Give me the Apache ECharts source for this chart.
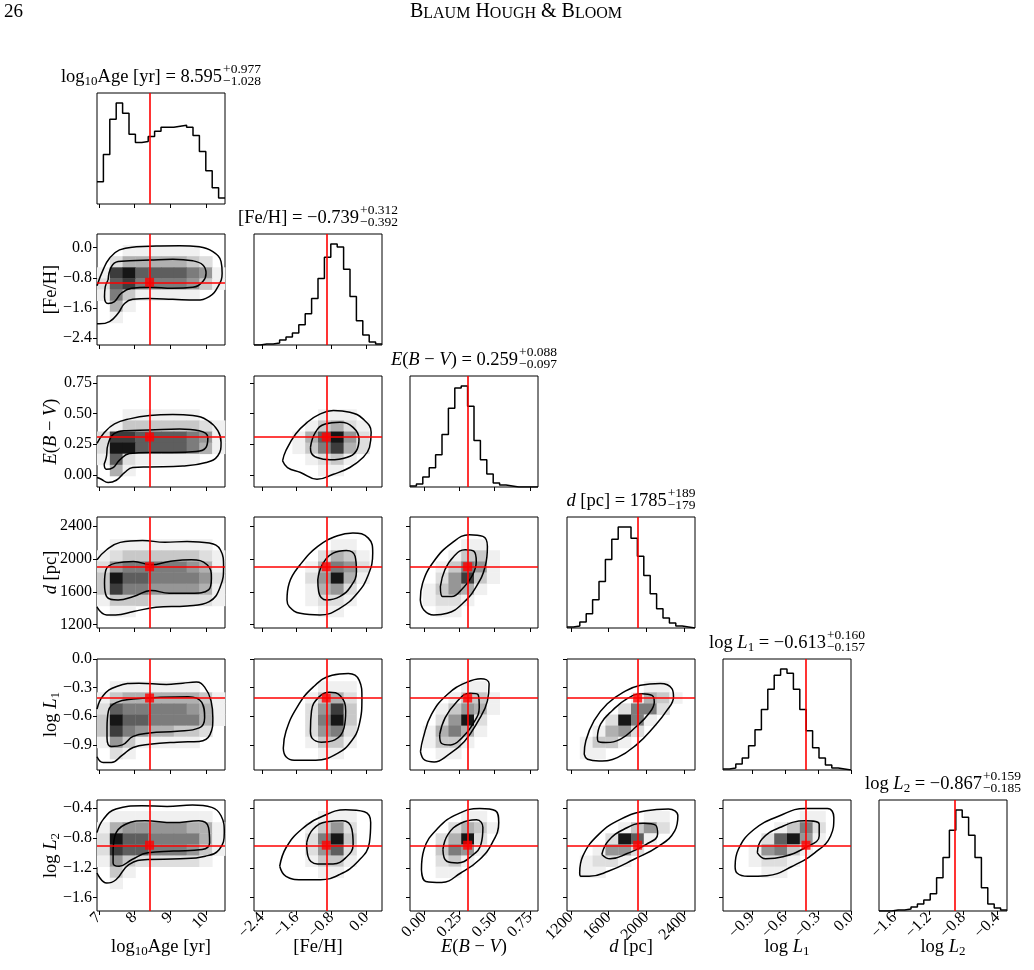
<!DOCTYPE html>
<html>
<head>
<meta charset="utf-8">
<script src="https://cdn.jsdelivr.net/npm/echarts@6.0.0/dist/echarts.min.js"></script>
<style>
  html, body { margin: 0; padding: 0; background: #fff; }
  #main { width: 1034px; height: 970px; }
</style>
</head>
<body>
<div id="main"></div>
<script>
// corner plot: 6 parameters, histograms on the diagonal, 2d densities below it

// ---- data ----
var params = ['age', 'feh', 'ebv', 'dist', 'logL1', 'logL2'];
var ranges = [[6.95, 10.53], [-2.58, 0.36], [-0.099, 0.807], [1160, 2512], [-1.163, 0.0], [-1.78, -0.29]];
var truths = [8.42, -0.92, 0.309, 1906, -0.409, -0.897];
var tickValues = [[7, 8, 9, 10], [-2.4, -1.6, -0.8, 0.0], [0, 0.25, 0.5, 0.75], [1200, 1600, 2000, 2400], [-0.9, -0.6, -0.3, 0.0], [-1.6, -1.2, -0.8, -0.4]];
var tickDecimals = [0, 1, 2, 0, 1, 1];
var medians = ['8.595', '−0.739', '0.259', '1785', '−0.613', '−0.867'];
var errPlus = ['+0.977', '+0.312', '+0.088', '+189', '+0.160', '+0.159'];
var errMinus = ['−1.028', '−0.392', '−0.097', '−179', '−0.157', '−0.185'];

// histogram heights (20 bins over the axis range, peak = 100)
var histAge = [22, 49, 84, 100, 90, 69, 61, 62, 67, 72, 76, 76, 77, 78, 76, 68, 52, 33, 16, 6];
var histFeh = [0, 1, 1, 2, 5, 8, 12, 20, 31, 46, 66, 87, 100, 97, 75, 48, 24, 10, 3, 1];
var histEbv = [1, 3, 10, 19, 32, 52, 78, 98, 100, 80, 46, 27, 13, 4, 2, 1, 0, 0, 0, 0];
var histDist = [1, 2, 6, 14, 28, 46, 68, 88, 100, 100, 89, 71, 52, 34, 19, 10, 5, 2, 1, 0];
var histL1 = [1, 2, 6, 12, 24, 40, 60, 80, 94, 100, 96, 80, 60, 39, 22, 12, 5, 2, 1, 0];
var histL2 = [0, 0, 1, 1, 2, 4, 7, 11, 17, 33, 53, 80, 100, 93, 75, 53, 23, 7, 3, 1];

// 2d density levels (0-9), 10x10 cells, top row first
var densFehAge = ['0000000000', '0011111100', '0244444320', '1897777651', '2786666531', '1631111100', '0410000000', '0100000000', '0000000000', '0000000000'];
var densEbvAge = ['0000000000', '0000000000', '0000000000', '0011111100', '0133333321', '2887777651', '2997777641', '1721111100', '0410000000', '0000000000'];
var densDistAge = ['0000000000', '0000000000', '0111111110', '1233333321', '2566666541', '3977666652', '3866555541', '1333222221', '0110000000', '0000000000'];
var densL1Age = ['0000000000', '0000000000', '0111111100', '1344444431', '2766666541', '3977666641', '3865443320', '1531111100', '0210000000', '0000000000'];
var densL2Age = ['0000000000', '0111111110', '1455555441', '2977666641', '2877666531', '1532222210', '0310000000', '0100000000', '0000000000', '0000000000'];
var densEbvFeh = ['0000000000', '0000000000', '0000000000', '0000011100', '0000134210', '0001479520', '0001368420', '0000123100', '0000011000', '0000000000'];
var densDistFeh = ['0000000000', '0000000000', '0000001100', '0000024310', '0000146520', '0000259410', '0000145200', '0000122100', '0000011000', '0000000000'];
var densL1Feh = ['0000000000', '0000000000', '0000011100', '0000134200', '0000258300', '0000269300', '0000256200', '0000133100', '0000011000', '0000000000'];
var densL2Feh = ['0000000000', '0000011100', '0000135200', '0000269300', '0000257200', '0000133100', '0000011000', '0000000000', '0000000000', '0000000000'];
var densDistEbv = ['0000000000', '0000000000', '0000110000', '0001331000', '0013651000', '0025831000', '0135410000', '0122100000', '0011000000', '0000000000'];
var densL1Ebv = ['0000000000', '0000000000', '0000110000', '0001331000', '0013541000', '0025920000', '0146410000', '0133100000', '0011000000', '0000000000'];
var densL2Ebv = ['0000000000', '0000110000', '0002431000', '0024920000', '0036510000', '0023100000', '0011000000', '0000000000', '0000000000', '0000000000'];
var densL1Dist = ['0000000000', '0000000000', '0000001100', '0000014310', '0000266200', '0002961000', '0014520000', '0133100000', '0110000000', '0000000000'];
var densL2Dist = ['0000000000', '0000001100', '0000135200', '0002971000', '0015520000', '0122100000', '0110000000', '0000000000', '0000000000', '0000000000'];
var densL2L1 = ['0000000000', '0000001100', '0000136200', '0002795100', '0015631000', '0012210000', '0001100000', '0000000000', '0000000000', '0000000000'];

// contour vertices [x, y] in data units
var outerFehAge = [[6.95, -2.02], [7.02, -2.02], [7.30, -1.96], [7.54, -1.74], [7.72, -1.48], [7.95, -1.37], [8.42, -1.35], [9.07, -1.37], [9.72, -1.39], [10.09, -1.30], [10.33, -1.04], [10.45, -0.68], [10.42, -0.37], [10.19, -0.11], [9.81, 0.02], [9.26, 0.05], [8.61, 0.04], [8.05, 0.02], [7.58, -0.06], [7.30, -0.28], [7.12, -0.59], [6.95, -1.01]];
var innerFehAge = [[7.26, -0.86], [7.35, -0.51], [7.54, -0.37], [7.86, -0.35], [8.42, -0.33], [9.07, -0.31], [9.63, -0.35], [9.91, -0.46], [10.0, -0.68], [9.91, -0.90], [9.63, -1.05], [9.07, -1.08], [8.42, -1.05], [7.91, -1.08], [7.63, -1.21], [7.44, -1.43], [7.26, -1.48], [7.16, -1.30], [7.18, -1.04]];
var outerEbvAge = [[6.95, -0.022], [7.07, -0.036], [7.26, -0.063], [7.49, -0.044], [7.72, 0.019], [7.95, 0.060], [8.42, 0.065], [9.35, 0.073], [10.0, 0.101], [10.33, 0.156], [10.42, 0.265], [10.33, 0.361], [10.05, 0.443], [9.63, 0.484], [9.07, 0.492], [8.42, 0.484], [7.86, 0.457], [7.44, 0.416], [7.16, 0.347], [6.95, 0.257]];
var innerEbvAge = [[7.15, 0.087], [7.21, 0.142], [7.26, 0.251], [7.44, 0.339], [7.77, 0.361], [8.42, 0.366], [9.26, 0.375], [9.81, 0.361], [10.05, 0.306], [10.0, 0.224], [9.72, 0.191], [9.07, 0.183], [8.42, 0.183], [7.86, 0.175], [7.58, 0.120], [7.40, 0.060], [7.21, 0.046]];
var outerDistAge = [[6.95, 1413], [7.22, 1319], [7.47, 1319], [7.97, 1360], [8.60, 1413], [9.47, 1429], [10.09, 1482], [10.40, 1665], [10.49, 1909], [10.40, 2113], [10.09, 2194], [9.47, 2215], [8.85, 2203], [8.22, 2227], [7.60, 2203], [7.22, 2113], [6.95, 1991]];
var innerDistAge = [[7.16, 1706], [7.20, 1869], [7.47, 1950], [7.97, 1970], [8.47, 1930], [8.97, 1970], [9.59, 1991], [10.03, 1930], [10.15, 1767], [10.07, 1624], [9.59, 1584], [8.97, 1584], [8.47, 1616], [7.97, 1543], [7.54, 1502], [7.22, 1543]];
var outerL1Age = [[6.95, -1.024], [7.12, -1.085], [7.35, -1.085], [7.66, -1.007], [7.96, -0.928], [8.42, -0.893], [9.19, -0.871], [9.81, -0.864], [10.11, -0.793], [10.19, -0.615], [10.14, -0.438], [9.96, -0.295], [9.73, -0.242], [9.35, -0.253], [8.89, -0.267], [8.12, -0.253], [7.50, -0.288], [7.12, -0.384], [6.95, -0.526]];
var innerL1Age = [[7.23, -0.722], [7.27, -0.544], [7.50, -0.455], [7.96, -0.420], [8.73, -0.402], [9.50, -0.395], [9.88, -0.455], [9.96, -0.615], [9.81, -0.722], [9.19, -0.758], [8.42, -0.775], [7.96, -0.811], [7.66, -0.900], [7.35, -0.918], [7.23, -0.829]];
var outerL2Age = [[6.95, -1.270], [7.22, -1.405], [7.48, -1.360], [7.84, -1.157], [8.37, -1.089], [9.27, -1.080], [9.98, -1.044], [10.37, -0.954], [10.51, -0.728], [10.42, -0.502], [10.16, -0.389], [9.62, -0.358], [8.91, -0.376], [8.20, -0.367], [7.48, -0.412], [7.13, -0.547], [6.95, -0.728]];
var innerL2Age = [[7.40, -0.999], [7.45, -0.773], [7.75, -0.615], [8.29, -0.570], [9.09, -0.593], [9.80, -0.570], [10.07, -0.660], [10.10, -0.863], [9.89, -0.954], [9.09, -0.976], [8.37, -0.999], [7.93, -1.089], [7.57, -1.179], [7.40, -1.134]];
var outerEbvFeh = [[-1.924, 0.115], [-1.849, 0.197], [-1.623, 0.334], [-1.359, 0.429], [-1.057, 0.498], [-0.756, 0.525], [-0.379, 0.511], [-0.077, 0.457], [0.111, 0.347], [0.073, 0.224], [-0.077, 0.142], [-0.379, 0.060], [-0.756, 0.005], [-1.133, -0.036], [-1.510, 0.019], [-1.811, 0.060]];
var innerEbvFeh = [[-1.283, 0.224], [-1.170, 0.347], [-0.944, 0.416], [-0.605, 0.429], [-0.304, 0.388], [-0.168, 0.292], [-0.228, 0.197], [-0.454, 0.142], [-0.831, 0.123], [-1.133, 0.142], [-1.268, 0.183]];
var outerDistFeh = [[-1.822, 1502], [-1.772, 1706], [-1.520, 1930], [-1.115, 2154], [-0.661, 2284], [-0.308, 2317], [0.046, 2255], [0.147, 2072], [0.046, 1808], [-0.207, 1584], [-0.611, 1400], [-1.065, 1319], [-1.520, 1339], [-1.772, 1421]];
var innerDistFeh = [[-1.115, 1747], [-1.014, 1930], [-0.762, 2072], [-0.459, 2105], [-0.257, 2032], [-0.227, 1848], [-0.358, 1665], [-0.611, 1543], [-0.914, 1502], [-1.095, 1604]];
var outerL1Feh = [[-1.907, -0.935], [-1.845, -0.758], [-1.596, -0.509], [-1.222, -0.295], [-0.786, -0.171], [-0.412, -0.153], [-0.163, -0.224], [-0.101, -0.402], [-0.163, -0.687], [-0.350, -0.864], [-0.661, -0.989], [-1.160, -1.060], [-1.658, -1.060], [-1.845, -1.024]];
var innerL1Feh = [[-1.284, -0.758], [-1.259, -0.544], [-1.097, -0.402], [-0.848, -0.349], [-0.599, -0.384], [-0.474, -0.544], [-0.512, -0.722], [-0.723, -0.847], [-1.035, -0.871], [-1.247, -0.829]];
var outerL2Feh = [[-1.989, -1.179], [-1.845, -0.931], [-1.485, -0.683], [-0.980, -0.502], [-0.476, -0.421], [-0.044, -0.448], [0.100, -0.593], [0.071, -0.863], [-0.188, -1.112], [-0.620, -1.292], [-1.053, -1.360], [-1.485, -1.360], [-1.845, -1.315]];
var innerL2Feh = [[-1.370, -0.863], [-1.225, -0.683], [-0.908, -0.583], [-0.548, -0.570], [-0.332, -0.683], [-0.303, -0.886], [-0.476, -1.067], [-0.764, -1.148], [-1.125, -1.148], [-1.341, -1.044]];
var outerDistEbv = [[-0.026, 1502], [-0.010, 1706], [0.069, 1970], [0.196, 2194], [0.322, 2296], [0.417, 2276], [0.449, 2154], [0.433, 1909], [0.370, 1665], [0.275, 1461], [0.164, 1339], [0.069, 1319], [-0.001, 1380]];
var innerDistEbv = [[0.116, 1665], [0.148, 1869], [0.211, 2032], [0.291, 2113], [0.354, 2093], [0.370, 1970], [0.338, 1787], [0.275, 1645], [0.196, 1543], [0.132, 1543]];
var outerL1Ebv = [[-0.025, -0.971], [-0.006, -0.829], [0.053, -0.580], [0.169, -0.366], [0.305, -0.242], [0.403, -0.206], [0.461, -0.260], [0.449, -0.438], [0.383, -0.651], [0.286, -0.864], [0.169, -1.007], [0.072, -1.078], [0.006, -1.060]];
var innerL1Ebv = [[0.111, -0.793], [0.150, -0.615], [0.228, -0.455], [0.325, -0.359], [0.383, -0.373], [0.391, -0.509], [0.344, -0.687], [0.267, -0.829], [0.189, -0.900], [0.123, -0.882]];
var outerL2Ebv = [[-0.018, -1.225], [0.000, -0.954], [0.103, -0.660], [0.237, -0.480], [0.394, -0.403], [0.506, -0.434], [0.529, -0.593], [0.484, -0.863], [0.394, -1.089], [0.260, -1.270], [0.125, -1.396], [0.013, -1.383]];
var innerL2Ebv = [[0.134, -0.954], [0.170, -0.751], [0.260, -0.602], [0.372, -0.556], [0.417, -0.660], [0.403, -0.886], [0.341, -1.035], [0.237, -1.134], [0.161, -1.112]];
var outerL1Dist = [[1342, -0.997], [1359, -0.856], [1446, -0.645], [1586, -0.469], [1761, -0.345], [1936, -0.275], [2145, -0.257], [2268, -0.310], [2285, -0.398], [2215, -0.539], [2075, -0.715], [1901, -0.892], [1691, -1.033], [1499, -1.068], [1377, -1.050]];
var innerL1Dist = [[1481, -0.821], [1516, -0.680], [1639, -0.539], [1796, -0.416], [1953, -0.363], [2058, -0.381], [2082, -0.451], [2023, -0.574], [1883, -0.715], [1726, -0.839], [1569, -0.874], [1488, -0.863]];
var outerL2Dist = [[1294, -1.270], [1327, -1.044], [1495, -0.751], [1729, -0.547], [1997, -0.434], [2231, -0.412], [2331, -0.502], [2298, -0.705], [2130, -0.909], [1863, -1.089], [1595, -1.247], [1394, -1.315], [1307, -1.315]];
var innerL2Dist = [[1528, -1.021], [1595, -0.841], [1762, -0.683], [1963, -0.602], [2097, -0.629], [2117, -0.751], [1997, -0.886], [1796, -1.008], [1615, -1.080]];
var outerL2L1 = [[-1.053, -1.179], [-1.024, -0.954], [-0.879, -0.683], [-0.648, -0.502], [-0.417, -0.403], [-0.214, -0.403], [-0.156, -0.525], [-0.185, -0.773], [-0.330, -0.999], [-0.532, -1.179], [-0.764, -1.306], [-0.937, -1.315], [-1.036, -1.270]];
var innerL2L1 = [[-0.851, -0.999], [-0.810, -0.818], [-0.648, -0.660], [-0.417, -0.570], [-0.289, -0.615], [-0.289, -0.773], [-0.417, -0.931], [-0.619, -1.053], [-0.775, -1.080]];

var hists = [histAge, histFeh, histEbv, histDist, histL1, histL2];

// row = y parameter, col = x parameter; open = outer contour runs off the left edge
var panels = [
  {row: 1, col: 0, dens: densFehAge, outer: outerFehAge, inner: innerFehAge, open: true},
  {row: 2, col: 0, dens: densEbvAge, outer: outerEbvAge, inner: innerEbvAge, open: true},
  {row: 3, col: 0, dens: densDistAge, outer: outerDistAge, inner: innerDistAge, open: true},
  {row: 4, col: 0, dens: densL1Age, outer: outerL1Age, inner: innerL1Age, open: true},
  {row: 5, col: 0, dens: densL2Age, outer: outerL2Age, inner: innerL2Age, open: true},
  {row: 2, col: 1, dens: densEbvFeh, outer: outerEbvFeh, inner: innerEbvFeh},
  {row: 3, col: 1, dens: densDistFeh, outer: outerDistFeh, inner: innerDistFeh},
  {row: 4, col: 1, dens: densL1Feh, outer: outerL1Feh, inner: innerL1Feh},
  {row: 5, col: 1, dens: densL2Feh, outer: outerL2Feh, inner: innerL2Feh},
  {row: 3, col: 2, dens: densDistEbv, outer: outerDistEbv, inner: innerDistEbv},
  {row: 4, col: 2, dens: densL1Ebv, outer: outerL1Ebv, inner: innerL1Ebv},
  {row: 5, col: 2, dens: densL2Ebv, outer: outerL2Ebv, inner: innerL2Ebv},
  {row: 4, col: 3, dens: densL1Dist, outer: outerL1Dist, inner: innerL1Dist},
  {row: 5, col: 3, dens: densL2Dist, outer: outerL2Dist, inner: innerL2Dist},
  {row: 5, col: 4, dens: densL2L1, outer: outerL2L1, inner: innerL2L1}
];

// axis label pieces: n = upright, i = italic, s = subscript
var labelTokens = [
  [['log', 'n'], ['10', 's'], ['Age [yr]', 'n']],
  [['[Fe/H]', 'n']],
  [['E', 'i'], ['(', 'n'], ['B', 'i'], [' − ', 'n'], ['V', 'i'], [')', 'n']],
  [['d', 'i'], [' [pc]', 'n']],
  [['log ', 'n'], ['L', 'i'], ['1', 's']],
  [['log ', 'n'], ['L', 'i'], ['2', 's']]
];

// ---- layout / style ----
var FONT = 'Liberation Serif';
var RED = '#ff0000';
var PW = 128, PH = 111;
var NAME_SIZE = 18.5, SCRIPT_SIZE = 13.5;
// grey value for each density level 0..9
var GREYS = [255, 240, 222, 200, 176, 150, 124, 94, 60, 22];
function gridLeft(j) { return Math.round(97.3 + 156.4 * j); }
function gridTop(i) { return Math.round(92.5 + 141.5 * i); }

function fmtTick(v, dec) {
  var s = Math.abs(v).toFixed(dec);
  return v < 0 ? '−' + s : s;
}

var measureCtx = document.createElement('canvas').getContext('2d');
function tokenFont(style, size) {
  var fs = style === 's' ? Math.round(size * 0.7) : size;
  return (style === 'i' ? 'italic ' : '') + fs + 'px "' + FONT + '"';
}
function measureTokens(tokens, size) {
  var w = 0;
  tokens.forEach(function (t) {
    measureCtx.font = tokenFont(t[1], size);
    w += measureCtx.measureText(t[0]).width;
  });
  return w;
}
function richString(tokens) {
  return tokens.map(function (t) { return '{' + t[1] + '|' + t[0] + '}'; }).join('');
}
function richStyles(size) {
  return {
    n: {fontFamily: FONT, fontSize: size, lineHeight: 21, fill: '#000'},
    i: {fontFamily: FONT, fontSize: size, fontStyle: 'italic', lineHeight: 21, fill: '#000'},
    s: {fontFamily: FONT, fontSize: Math.round(size * 0.7), lineHeight: 12, padding: [9, 0, 0, 0], fill: '#000'}
  };
}

var grids = [], xAxes = [], yAxes = [], series = [], graphics = [];

function addGrid(i, j) {
  grids.push({
    left: gridLeft(j), top: gridTop(i), width: PW, height: PH,
    show: true, borderColor: '#000', borderWidth: 1, backgroundColor: 'rgba(0,0,0,0)',
    containLabel: false, outerBoundsMode: 'none'
  });
  return grids.length - 1;
}

function valueAxis(g, p, showLabel, isX) {
  return {
    type: 'value', gridIndex: g, min: ranges[p][0], max: ranges[p][1],
    axisLine: {show: false, onZero: false},
    splitLine: {show: false},
    axisTick: {show: true, inside: false, length: 4, lineStyle: {color: '#000', width: 1}, customValues: tickValues[p]},
    axisLabel: {
      show: showLabel, customValues: tickValues[p], color: '#000', fontFamily: FONT, fontSize: 16,
      margin: isX ? 4 : 5, rotate: isX ? 45 : 0, hideOverlap: false,
      formatter: function (v) { return fmtTick(v, tickDecimals[p]); }
    }
  };
}

function redLines(data) {
  return {
    silent: true, symbol: ['none', 'none'], animation: false,
    label: {show: false},
    lineStyle: {color: RED, width: 1.6, type: 'solid'},
    emphasis: {disabled: true},
    data: data
  };
}

// diagonal histograms
params.forEach(function (name, k) {
  var g = addGrid(k, k);
  xAxes.push(valueAxis(g, k, k === 5, true));
  var counts = hists[k];
  yAxes.push({type: 'value', gridIndex: g, min: 0, max: 1.1 * Math.max.apply(null, counts), show: false});
  var binW = (ranges[k][1] - ranges[k][0]) / counts.length;
  var pts = counts.map(function (c, b) { return [ranges[k][0] + b * binW, c]; });
  pts.push([ranges[k][1], counts[counts.length - 1]]);
  series.push({
    type: 'line', xAxisIndex: g, yAxisIndex: g, data: pts, step: 'end',
    symbol: 'none', lineStyle: {color: '#000', width: 1.5}, z: 3,
    markLine: redLines([{xAxis: truths[k]}])
  });
});

// 2d panels
panels.forEach(function (pn) {
  var g = addGrid(pn.row, pn.col);
  xAxes.push(valueAxis(g, pn.col, pn.row === 5, true));
  yAxes.push(valueAxis(g, pn.row, pn.col === 0, false));
  var xr = ranges[pn.col], yr = ranges[pn.row];
  var nx = pn.dens[0].length, ny = pn.dens.length;
  var cw = (xr[1] - xr[0]) / nx, ch = (yr[1] - yr[0]) / ny;
  var cells = [];
  pn.dens.forEach(function (rowStr, r) {
    for (var c = 0; c < nx; c++) {
      var lev = +rowStr.charAt(c);
      if (lev > 0) cells.push([xr[0] + (c + 0.5) * cw, yr[1] - (r + 0.5) * ch, lev]);
    }
  });
  series.push({
    type: 'custom', xAxisIndex: g, yAxisIndex: g, data: cells, z: 1, silent: true,
    renderItem: function (params, api) {
      var p0 = api.coord([api.value(0) - cw / 2, api.value(1) + ch / 2]);
      var sz = api.size([cw, ch]);
      var grey = GREYS[api.value(2)];
      return {
        type: 'rect',
        shape: {x: p0[0], y: p0[1], width: sz[0] + 0.4, height: sz[1] + 0.4},
        style: {fill: 'rgb(' + grey + ',' + grey + ',' + grey + ')'}
      };
    }
  });
  var outer = pn.open ? pn.outer : pn.outer.concat([pn.outer[0]]);
  var inner = pn.inner.concat([pn.inner[0]]);
  [outer, inner].forEach(function (line) {
    series.push({
      type: 'line', xAxisIndex: g, yAxisIndex: g, data: line, smooth: 0.45,
      symbol: 'none', lineStyle: {color: '#000', width: 1.5}, z: 3, silent: true
    });
  });
  series.push({
    type: 'scatter', xAxisIndex: g, yAxisIndex: g,
    data: [[truths[pn.col], truths[pn.row]]],
    symbol: 'rect', symbolSize: 9, itemStyle: {color: RED}, z: 5,
    markLine: redLines([{xAxis: truths[pn.col]}, {yAxis: truths[pn.row]}])
  });
});

// titles above the histograms: label = median with +/- errors
params.forEach(function (name, k) {
  var toks = labelTokens[k].concat([[' = ' + medians[k], 'n']]);
  var wMain = measureTokens(toks, NAME_SIZE);
  measureCtx.font = SCRIPT_SIZE + 'px "' + FONT + '"';
  var wScr = Math.max(measureCtx.measureText(errPlus[k]).width, measureCtx.measureText(errMinus[k]).width);
  var cx = gridLeft(k) + PW / 2;
  var x0 = cx - (wMain + 1 + wScr) / 2;
  var base = gridTop(k) - 10;
  graphics.push({
    type: 'text', x: x0, y: base + 5, silent: true,
    style: {text: richString(toks), rich: richStyles(NAME_SIZE), align: 'left', verticalAlign: 'bottom'}
  });
  graphics.push({
    type: 'text', x: x0 + wMain + 1, y: base - 20, silent: true,
    style: {
      text: errPlus[k] + '\n' + errMinus[k], fontFamily: FONT, fontSize: SCRIPT_SIZE, lineHeight: 12,
      fill: '#000', align: 'left', verticalAlign: 'top'
    }
  });
});

// axis names: bottom row and left column
params.forEach(function (name, k) {
  graphics.push({
    type: 'text', x: gridLeft(k) + PW / 2, y: 958, silent: true,
    style: {text: richString(labelTokens[k]), rich: richStyles(NAME_SIZE), align: 'center', verticalAlign: 'bottom'}
  });
  if (k > 0) {
    graphics.push({
      type: 'text', x: 62, y: gridTop(k) + PH / 2, rotation: Math.PI / 2, silent: true,
      style: {text: richString(labelTokens[k]), rich: richStyles(NAME_SIZE), align: 'center', verticalAlign: 'bottom'}
    });
  }
});

// page header
graphics.push({
  type: 'text', x: 4, y: 3, silent: true,
  style: {text: '26', fontFamily: FONT, fontSize: 19, fill: '#000', align: 'left', verticalAlign: 'top'}
});
graphics.push({
  type: 'text', x: 516, y: 1, silent: true,
  style: {
    text: '{c|B}{s|LAUM} {c|H}{s|OUGH} {c|&} {c|B}{s|LOOM}',
    rich: {
      c: {fontFamily: FONT, fontSize: 20, lineHeight: 22, fill: '#000'},
      s: {fontFamily: FONT, fontSize: 16, lineHeight: 18, padding: [4, 0, 0, 0], fill: '#000'}
    },
    fontFamily: FONT, fontSize: 20, fill: '#000',
    align: 'center', verticalAlign: 'top'
  }
});

var chart = echarts.init(document.getElementById('main'), null, {renderer: 'canvas'});
chart.setOption({
  animation: false,
  backgroundColor: '#fff',
  grid: grids,
  xAxis: xAxes,
  yAxis: yAxes,
  series: series,
  graphic: graphics
});
</script>
</body>
</html>
